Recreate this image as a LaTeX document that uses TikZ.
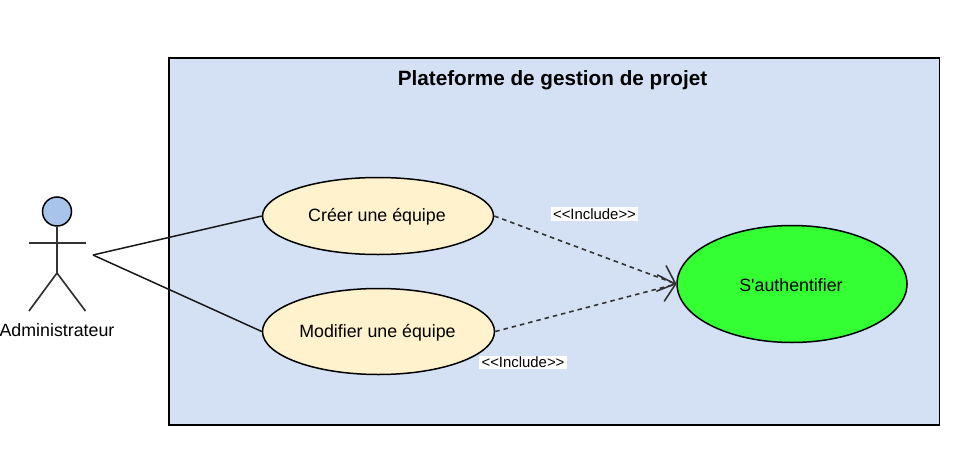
\documentclass[tikz,border=0pt]{standalone}
\usepackage{fontspec}
\setmainfont{Liberation Sans}
\newfontfamily\plainf{Liberation Sans}
\usetikzlibrary{shapes.geometric,arrows.meta}
\definecolor{sysblue}{HTML}{D4E1F5}
\definecolor{ucyellow}{HTML}{FFF2CC}
\definecolor{headblue}{HTML}{A9C4EB}
\definecolor{authgreen}{HTML}{33FF33}
\tikzset{
  x=1pt,y=-1pt,
  every node/.style={font=\fontsize{17.8}{20}\selectfont,text=black},
  uc/.style={ellipse,draw=black,line width=1.5pt,inner sep=0pt},
  stroke/.style={draw=black!80,line width=1.7pt},
  assoc/.style={draw=black!90,line width=1.5pt},
  incl/.style={draw=black!80,line width=1.6pt,dash pattern=on 4.5pt off 4pt,-{Straight Barb[length=15pt,width=27pt,line width=1.6pt,round]}},
  stereo/.style={fill=white,font=\fontsize{14.9}{16}\selectfont,inner xsep=2.5pt,inner ysep=1.5pt}
}
\begin{document}
\begin{tikzpicture}
\useasboundingbox (0,0) rectangle (966,460);
\node[draw=black,line width=1.5pt,fill=sysblue,minimum width=770.5pt,minimum height=367pt,inner sep=0pt,anchor=north west] (sys) at (168.2,57.2) {};
\node[font=\fontsize{20.7}{22}\selectfont\bfseries] (title) at (552.5,80) {Plateforme de gestion de projet};
\node[uc,fill=ucyellow,minimum width=231pt,minimum height=77pt] (creer) at (378,216) {};
\node[uc,fill=ucyellow,minimum width=232pt,minimum height=86pt] (modif) at (378.5,331.5) {};
\node[uc,fill=authgreen,minimum width=230pt,minimum height=117pt] (auth) at (792,284) {};
\node (tcreer) at (377,217) {Créer une équipe};
\node (tmodif) at (377.5,332.5) {Modifier une équipe};
\node (tauth) at (791,285) {\plainf S'authentifier};
\node[circle,draw=black,line width=1.5pt,fill=headblue,minimum size=29pt,inner sep=0pt] (head) at (57,211.5) {};
\coordinate (hip) at (57,273);
\coordinate (armL) at (29,243);
\coordinate (armR) at (85.5,243);
\coordinate (footL) at (29,311);
\coordinate (footR) at (85.5,311);
\coordinate (actor) at (93,255);
\draw[stroke] (head.south) -- (hip);
\draw[stroke] (armL) -- (armR);
\draw[stroke] (footL) -- (hip) -- (footR);
\node (admin) at (57,330.5) {Administrateur};
\draw[assoc] (actor) -- (creer.west);
\draw[assoc] (actor) -- (modif.west);
\draw[incl] (creer.east) -- (auth.west);
\draw[incl] (modif.east) -- (auth.west);
\node[stereo] (l1) at (594.5,214) {<{}<Include>{}>};
\node[stereo] (l2) at (523,362.5) {<{}<Include>{}>};
\end{tikzpicture}
\end{document}
